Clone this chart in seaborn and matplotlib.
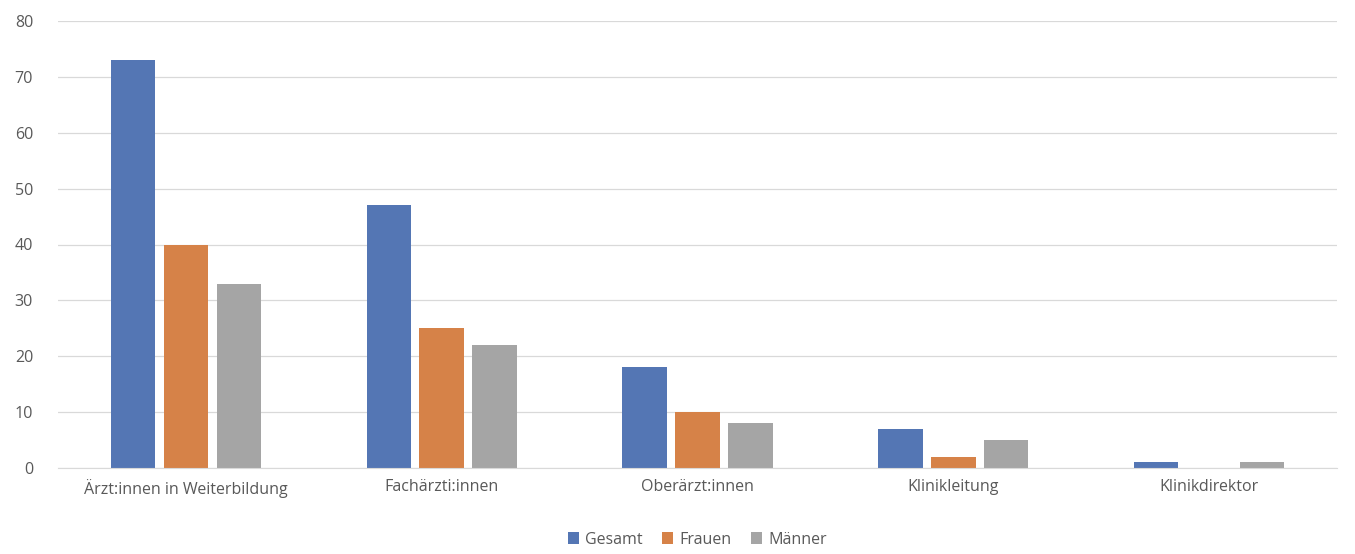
import matplotlib
matplotlib.use("Agg")
import matplotlib.pyplot as plt
import seaborn as sns
import pandas as pd

categories = ["Ärzt:innen in Weiterbildung", "Fachärzti:innen", "Oberärzt:innen", "Klinikleitung", "Klinikdirektor"]
series = ["Gesamt", "Frauen", "Männer"]
gesamt = [73, 47, 18, 7, 1]
frauen = [40, 25, 10, 2, 0]
maenner = [33, 22, 8, 5, 1]
colors = ["#4472C4", "#ED7D31", "#A5A5A5"]

rows = []
for s, vals in zip(series, [gesamt, frauen, maenner]):
    for c, v in zip(categories, vals):
        rows.append({"Kategorie": c, "Serie": s, "Wert": v})
df = pd.DataFrame(rows)

plt.rcParams["font.family"] = "Open Sans"
fig = plt.figure(figsize=(13.55, 5.54), dpi=100)
ax = fig.add_axes([58/1355, 1-468/554, (1337-58)/1355, (468-21)/554])
sns.barplot(data=df, x="Kategorie", y="Wert", hue="Serie", palette=colors,
            width=0.62, gap=0.16, ax=ax, legend=True)
ax.set_ylim(0, 80)
ax.set_xlim(-0.5, 4.5)
ax.set_yticks(range(0, 81, 10))
ax.grid(axis="y", color="#D9D9D9", linewidth=0.9)
ax.set_axisbelow(True)
for s in ["top", "right", "left"]:
    ax.spines[s].set_visible(False)
ax.spines["bottom"].set_color("#D9D9D9")
ax.tick_params(axis="both", length=0, labelsize=11.5, colors="#595959", pad=8)
ax.tick_params(axis="y", pad=18)
ax.set_xlabel("")
ax.set_ylabel("")
leg = ax.legend(loc="upper center", bbox_to_anchor=(0.5, -0.11), ncol=3, frameon=False,
                fontsize=11.5, handlelength=0.7, handleheight=0.7, columnspacing=1.2, handletextpad=0.4)
for t in leg.get_texts():
    t.set_color("#595959")
fig.savefig("out.png", dpi=100)
